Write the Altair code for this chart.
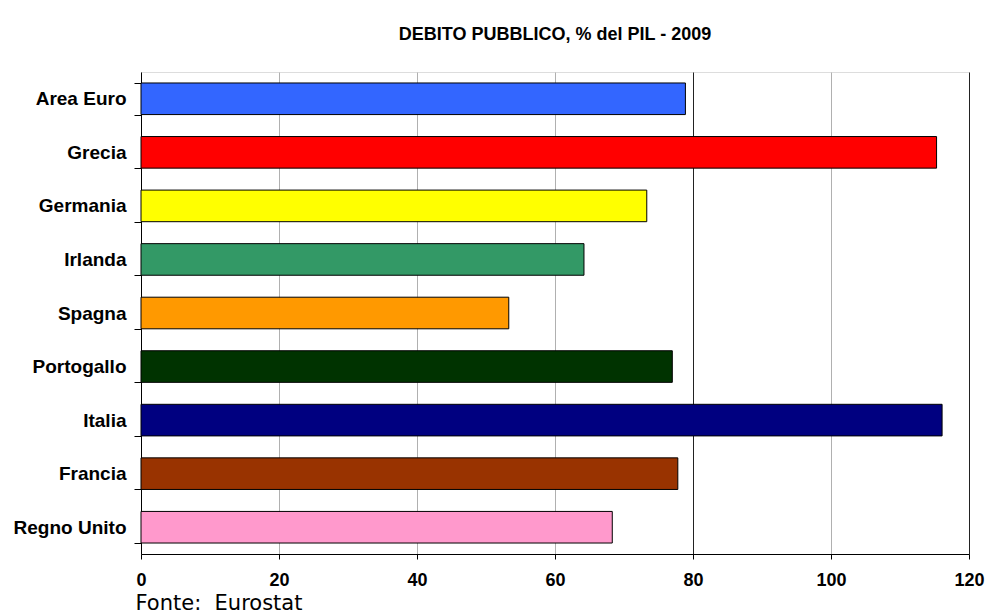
import altair as alt
import pandas as pd

paesi = ["Area Euro", "Grecia", "Germania", "Irlanda", "Spagna",
         "Portogallo", "Italia", "Francia", "Regno Unito"]
debito = [78.9, 115.3, 73.3, 64.2, 53.3, 77.0, 116.1, 77.8, 68.3]
colori = ["#3366ff", "#ff0000", "#ffff00", "#339966", "#ff9900",
          "#003300", "#000080", "#993300", "#ff99cc"]
x_ticks = [0, 20, 40, 60, 80, 100, 120]
linee_scure = [80, 120]

df = pd.DataFrame({"paese": paesi, "debito": debito})

grid_test = " || ".join(f"datum.value == {v}" for v in linee_scure)

chart = alt.Chart(df).mark_bar(stroke="black", strokeWidth=1).encode(
    x=alt.X(
        "debito:Q",
        scale=alt.Scale(domain=[0, 120], nice=False),
        axis=alt.Axis(
            values=x_ticks,
            grid=True,
            gridColor={"condition": {"test": grid_test, "value": "#222222"}, "value": "#b0b0b0"},
            gridWidth=1,
            domainColor="black",
            tickColor="black",
            tickSize=5,
            labelFlush=False,
            labelPadding=12,
            labelFont="Liberation Sans",
            labelFontSize=18,
            labelFontWeight="bold",
            labelColor="black",
            title="Fonte:\u00a0 Eurostat",
            titleFont="DejaVu Sans",
            titleFontSize=21,
            titleFontWeight="normal",
            titleColor="black",
            titleAnchor="start",
            titleAlign="left",
            titleBaseline="alphabetic",
            titleX=-6,
            titleY=55,
        ),
    ),
    y=alt.Y(
        "paese:N",
        sort=paesi,
        scale=alt.Scale(paddingInner=0.41, paddingOuter=0.205),
        axis=alt.Axis(
            title=None,
            grid=False,
            domainColor="black",
            tickColor="black",
            tickSize=7,
            tickBand="extent",
            labelFont="Liberation Sans",
            labelFontSize=19,
            labelFontWeight="bold",
            labelColor="black",
            labelPadding=8,
        ),
    ),
    color=alt.Color("paese:N", scale=alt.Scale(domain=paesi, range=colori), legend=None),
).properties(
    width=828,
    height=482,
    autosize=alt.AutoSizeParams(type="none"),
    padding={"left": 141, "top": 72, "right": 18, "bottom": 59},
    title=alt.TitleParams(
        "DEBITO PUBBLICO, % del PIL - 2009",
        font="Liberation Sans",
        fontSize=18,
        fontWeight="bold",
        color="black",
        anchor="middle",
        baseline="alphabetic",
        offset=5,
    ),
).configure_view(stroke=None).configure(background="white")

chart.save("out.html", embed_options={"renderer": "svg", "actions": False})
